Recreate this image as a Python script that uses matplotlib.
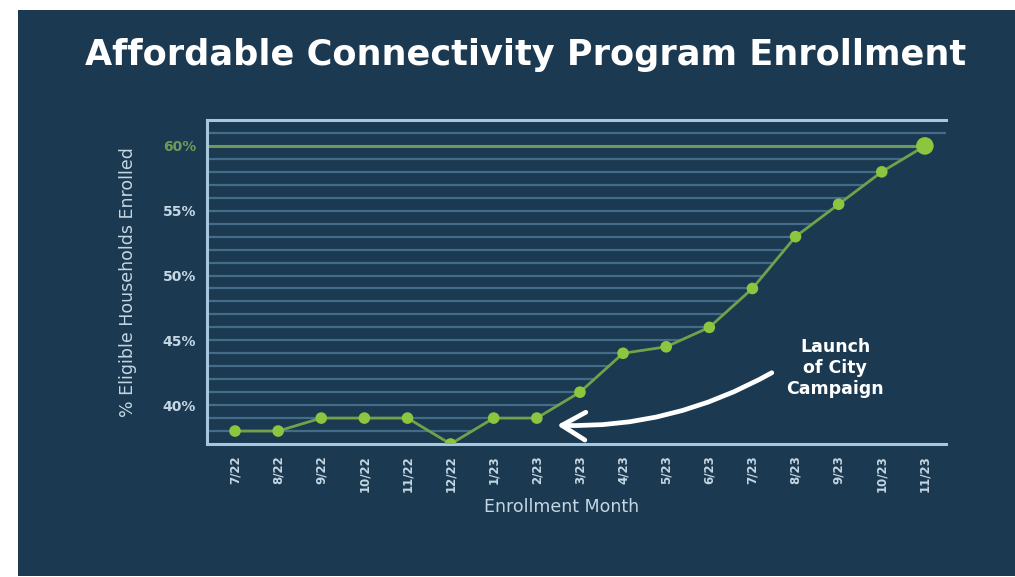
import numpy as np
import matplotlib
matplotlib.use("Agg")
import matplotlib.pyplot as plt
from matplotlib.patches import Rectangle

months = ["7/22", "8/22", "9/22", "10/22", "11/22", "12/22", "1/23", "2/23", "3/23",
          "4/23", "5/23", "6/23", "7/23", "8/23", "9/23", "10/23", "11/23"]
enrolled = [38, 38, 39, 39, 39, 37, 39, 39, 41, 44, 44.5, 46, 49, 53, 55.5, 58, 60]
y_ticks = [40, 45, 50, 55, 60]
y_tick_labels = ["40%", "45%", "50%", "55%", "60%"]
goal = 60

BG = "#1b3a52"
GRID = "#426c88"
FRAME = "#a9c6dc"
TXT = "#c5d6e3"
GREEN_LINE = "#6fa24a"
GREEN_PT = "#8cc63f"
GOAL = "#6b9b57"

W, H = 1015, 577
fig = plt.figure(figsize=(W / 100, H / 100), dpi=100, facecolor="white")
fig.patches.append(Rectangle((18 / W, 1 / H), (W - 18) / W, (575 - 9) / H,
                             transform=fig.transFigure, facecolor=BG,
                             edgecolor="none", zorder=-10))

ax = fig.add_axes([207 / W, 1 - 444 / H, (946 - 207) / W, (444 - 120) / H])
ax.set_facecolor("none")
x = np.arange(len(months))
ax.set_xlim(-0.65, 16.49)
ax.set_ylim(37, 62)

# gridlines: drawn from the left edge up to where the curve last reaches the level
xf = np.linspace(x[0], x[-1], 4001)
yf = np.interp(xf, x, enrolled)
for lvl in range(38, 62):
    if lvl == goal:
        continue
    if lvl > max(enrolled):
        xe = 16.49
    else:
        below = np.where(yf < lvl)[0]
        xe = xf[below[-1]] if len(below) else -0.65
    ax.plot([-0.65, xe], [lvl, lvl], color=GRID, lw=1.6, zorder=1,
            solid_capstyle="butt")

ax.plot([-0.65, x[-1]], [goal, goal], color=GOAL, lw=2.2, zorder=2)

ax.plot(x, enrolled, color=GREEN_LINE, lw=2, zorder=3)
ax.scatter(x[:-1], enrolled[:-1], s=70, color=GREEN_PT, zorder=4, edgecolors="none")
ax.scatter([x[-1]], [enrolled[-1]], s=160, color=GREEN_PT, zorder=4, edgecolors="none")

ax.spines["right"].set_visible(False)
for s in ["left", "top", "bottom"]:
    ax.spines[s].set_color(FRAME)
    ax.spines[s].set_linewidth(2.2)

ax.set_yticks(y_ticks)
ax.set_yticklabels(y_tick_labels)
ax.set_xticks(x)
ax.set_xticklabels(months, rotation=90)
ax.tick_params(length=0, pad=8)
for lab in ax.get_yticklabels():
    lab.set_color(TXT)
    lab.set_fontsize(10)
    lab.set_fontweight("bold")
ax.get_yticklabels()[-1].set_color(GOAL)
for lab in ax.get_xticklabels():
    lab.set_color(TXT)
    lab.set_fontsize(8.5)
    lab.set_fontweight("bold")

fig.text(128 / W, 1 - 282 / H, "% Eligible Households Enrolled", rotation=90,
         color=TXT, fontsize=12.5, ha="center", va="center")
fig.text(562 / W, 1 - 507 / H, "Enrollment Month", color=TXT, fontsize=12.5,
         ha="center", va="center")

fig.text(526 / W, 1 - 55 / H, "Affordable Connectivity Program Enrollment",
         color="white", fontsize=25.3, fontweight="bold", ha="center", va="center")

ax.annotate("", xy=(7.47, 38.45), xytext=(12.45, 42.5),
            arrowprops=dict(arrowstyle="->,head_length=1.7,head_width=1.0",
                            connectionstyle="arc3,rad=-0.14",
                            color="white", lw=3.4, shrinkA=0, shrinkB=0),
            zorder=5)
fig.text(835 / W, 1 - 368 / H, "Launch\nof City\nCampaign", color="white",
         fontsize=12.5, fontweight="bold", ha="center", va="center",
         linespacing=1.2)

fig.savefig("out.png", dpi=100, facecolor="white")
